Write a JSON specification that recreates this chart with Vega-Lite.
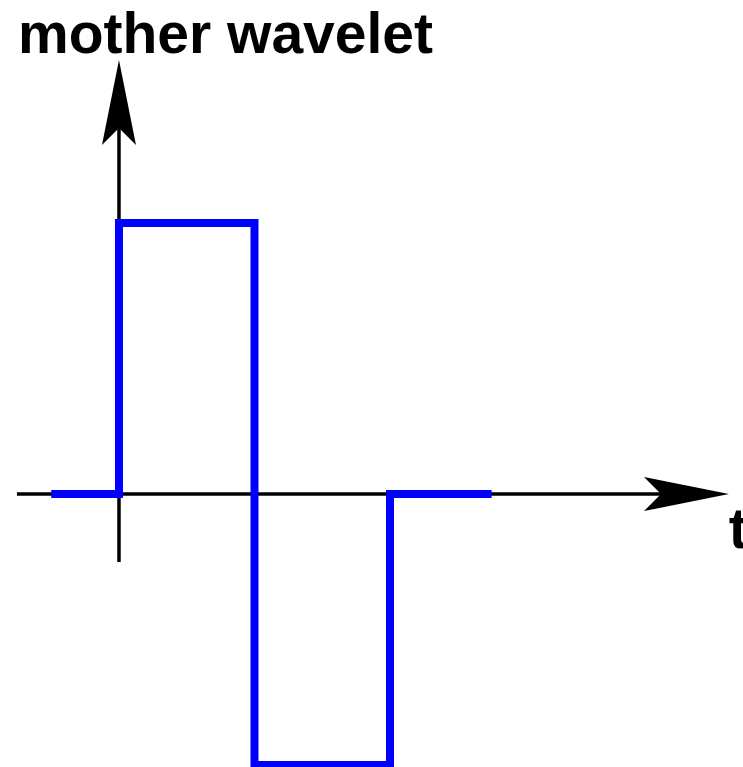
{
  "$schema": "https://vega.github.io/schema/vega-lite/v6.json",
  "width": 743,
  "height": 767,
  "autosize": {"type": "none"},
  "padding": 0,
  "background": "white",
  "config": {"view": {"stroke": null}},
  "datasets": {
    "wave": [
      {"i": 0, "t": -0.5, "v": 0},
      {"i": 1, "t": 0, "v": 0},
      {"i": 2, "t": 0, "v": 1},
      {"i": 3, "t": 1, "v": 1},
      {"i": 4, "t": 1, "v": -1},
      {"i": 5, "t": 2, "v": -1},
      {"i": 6, "t": 2, "v": 0},
      {"i": 7, "t": 2.75, "v": 0}
    ],
    "axes": [
      {"name": "t-axis", "t": -0.753, "t2": 4.188, "v": 0, "v2": 0},
      {"name": "v-axis", "t": 0, "t2": 0, "v": -0.251, "v2": 1.445}
    ],
    "heads": [
      {"name": "up", "t": 0, "v": 1.445},
      {"name": "right", "t": 4.188, "v": 0}
    ],
    "labels": [
      {"text": "mother wavelet", "t": -0.745, "v": 1.627},
      {"text": "t", "t": 4.5, "v": -0.199}
    ]
  },
  "layer": [
    {
      "data": {"name": "axes"},
      "mark": {"type": "rule", "color": "black", "strokeWidth": 3.5, "strokeCap": "butt"},
      "encoding": {
        "x": {"field": "t", "type": "quantitative", "scale": {"domain": [-0.878, 4.605], "nice": false, "zero": false}, "axis": null},
        "x2": {"field": "t2"},
        "y": {"field": "v", "type": "quantitative", "scale": {"domain": [-1.007, 1.823], "nice": false, "zero": false}, "axis": null},
        "y2": {"field": "v2"}
      }
    },
    {
      "data": {"name": "heads"},
      "transform": [{"filter": "datum.name === 'up'"}],
      "mark": {"type": "point", "filled": true, "color": "black", "opacity": 1, "strokeWidth": 0, "size": 7225, "shape": "M0,-1L0.4,1L0,0.6L-0.4,1Z"},
      "encoding": {
        "x": {"field": "t", "type": "quantitative"},
        "y": {"field": "v", "type": "quantitative"}
      }
    },
    {
      "data": {"name": "heads"},
      "transform": [{"filter": "datum.name === 'right'"}],
      "mark": {"type": "point", "filled": true, "color": "black", "opacity": 1, "strokeWidth": 0, "size": 7225, "shape": "M1,0L-1,0.4L-0.6,0L-1,-0.4Z"},
      "encoding": {
        "x": {"field": "t", "type": "quantitative"},
        "y": {"field": "v", "type": "quantitative"}
      }
    },
    {
      "data": {"name": "wave"},
      "mark": {"type": "line", "color": "#0000ff", "strokeWidth": 8, "strokeJoin": "miter", "strokeCap": "butt", "interpolate": "linear"},
      "encoding": {
        "x": {"field": "t", "type": "quantitative"},
        "y": {"field": "v", "type": "quantitative"},
        "order": {"field": "i", "type": "quantitative"}
      }
    },
    {
      "data": {"name": "labels"},
      "mark": {"type": "text", "font": "Liberation Sans", "fontWeight": "bold", "fontSize": 57, "align": "left", "baseline": "alphabetic", "color": "black"},
      "encoding": {
        "x": {"field": "t", "type": "quantitative"},
        "y": {"field": "v", "type": "quantitative"},
        "text": {"field": "text"}
      }
    }
  ]
}
